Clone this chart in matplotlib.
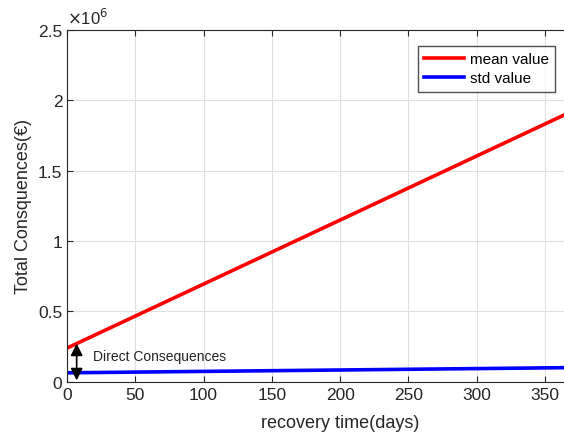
import numpy as np
import matplotlib.pyplot as plt
from matplotlib.ticker import FuncFormatter

plt.rcParams['font.family'] = ['Liberation Sans', 'DejaVu Sans']

# recovery time (days) and consequences (EUR)
days = [0, 400]
mean_value = [0.24e6, 2.06e6]
std_value = [0.064e6, 0.104e6]
arrow_day = 7
arrow_top = 0.272e6
arrow_bottom = 0.01e6

fig = plt.figure(figsize=(5.64, 4.39), dpi=100)
ax = fig.add_axes([0.119, 0.128, 0.968, 0.801])

ax.plot(days, mean_value, color='#ff0000', lw=2.6, label='mean value')
ax.plot(days, std_value, color='#0000ff', lw=2.6, label='std value')

ax.annotate('', xy=(arrow_day, arrow_bottom), xytext=(arrow_day, arrow_top),
            arrowprops=dict(arrowstyle='<|-|>', color='black', lw=1.2,
                            mutation_scale=18, shrinkA=0, shrinkB=0))
ax.text(19, 0.185e6, 'Direct Consequences', fontsize=10, va='center', color='#222222')

ax.set_xlim(0, 400)
ax.set_ylim(0, 2.5e6)
ax.set_xticks(np.arange(0, 351, 50))
ax.set_yticks(np.arange(0, 2.51e6, 0.5e6))
ax.yaxis.set_major_formatter(FuncFormatter(lambda v, p: '%g' % (v / 1e6)))
ax.text(0.0, 1.008, r'$\times$10$^6$', transform=ax.transAxes, fontsize=12,
        color='#262626', va='bottom', ha='left')

ax.grid(True, color='#e0e0e0', lw=0.8)
ax.tick_params(labelsize=12.5, colors='#262626', direction='in', length=4, top=True)
for s in ax.spines.values():
    s.set_color('#262626')
    s.set_linewidth(0.8)

ax.set_xlabel('recovery time(days)', fontsize=13, color='#262626', labelpad=9)
ax.set_ylabel('Total Consquences(€)', fontsize=13, color='#262626')

ax.legend(loc='upper right', bbox_to_anchor=(0.984, 0.893), bbox_transform=fig.transFigure,
          fontsize=11, frameon=True, fancybox=False, edgecolor='#262626',
          handlelength=2.6, borderpad=0.4, labelspacing=0.35, handletextpad=0.4,
          borderaxespad=0)

fig.savefig('out.png', dpi=100)
